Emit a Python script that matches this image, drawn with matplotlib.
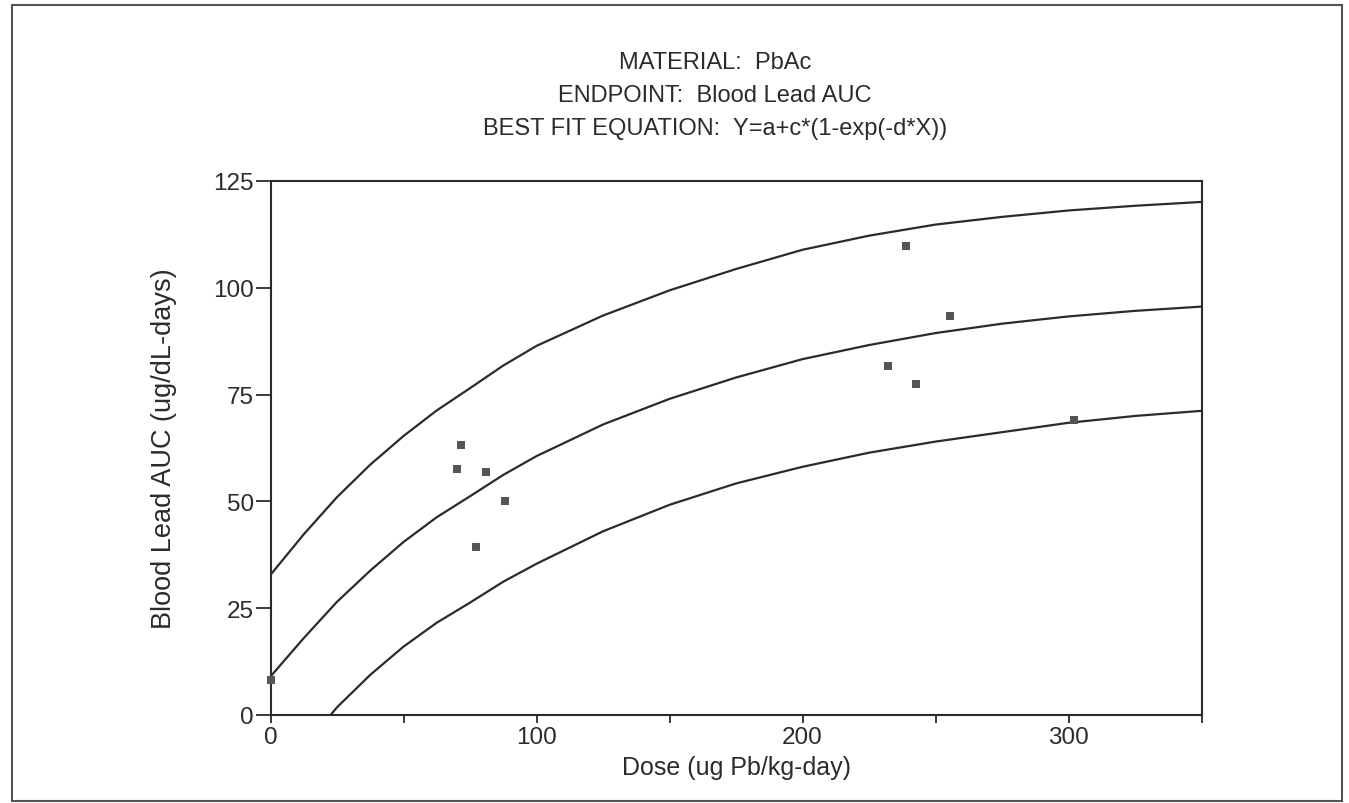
import matplotlib
matplotlib.use("Agg")
import matplotlib.pyplot as plt
from matplotlib.patches import Rectangle

# fitted curve and bands
dose_fit = [0, 12.5, 25, 37.5, 50, 62.5, 75, 87.5, 100, 125, 150, 175,
            200, 225, 250, 275, 300, 325, 350]
auc_mid = [9.0, 18.0, 26.5, 33.8, 40.5, 46.3, 51.2, 56.2, 60.6, 68.0, 74.0,
           79.0, 83.3, 86.6, 89.4, 91.6, 93.3, 94.6, 95.6]
auc_upper = [32.8, 42.3, 51.0, 58.6, 65.3, 71.3, 76.5, 81.8, 86.4, 93.5,
             99.4, 104.4, 108.9, 112.2, 114.8, 116.6, 118.1, 119.2, 120.1]
dose_low = [22.6, 25, 37.5, 50, 62.5, 75, 87.5, 100, 125, 150, 175,
            200, 225, 250, 275, 300, 325, 350]
auc_lower = [0.0, 1.8, 9.4, 16.0, 21.6, 26.3, 31.2, 35.4, 43.0, 49.2, 54.2,
             58.1, 61.4, 64.0, 66.2, 68.4, 70.0, 71.2]

# observed data points
dose_obs = [0, 70, 71.7, 77.1, 81.1, 88.0, 232.1, 239.0, 242.6, 255.3, 302.2]
auc_obs = [8.3, 57.7, 63.1, 39.4, 56.9, 50.2, 81.6, 109.8, 77.5, 93.3, 69.0]

title_lines = ["MATERIAL:  PbAc",
               "ENDPOINT:  Blood Lead AUC",
               "BEST FIT EQUATION:  Y=a+c*(1-exp(-d*X))"]

plt.rcParams['font.family'] = ['Liberation Sans', 'DejaVu Sans']
ink = '#2b2b2b'

fig = plt.figure(figsize=(13.49, 8.04), dpi=100)
fig.patch.set_facecolor('white')
# outer frame around the whole chart
fig.add_artist(Rectangle((12 / 1349, 1 - 802 / 804), 1330 / 1349, 796 / 804,
                         transform=fig.transFigure, fill=False,
                         edgecolor='#555555', linewidth=1.5))

ax = fig.add_axes([270.5 / 1349, 1 - 716 / 804, 931 / 1349, 534 / 804])

ax.plot(dose_fit, auc_upper, color=ink, linewidth=1.6)
ax.plot(dose_fit, auc_mid, color=ink, linewidth=1.6)
ax.plot(dose_low, auc_lower, color=ink, linewidth=1.6)
ax.plot(dose_obs, auc_obs, linestyle='none', marker='s', markersize=5.5,
        color='#555555', markeredgewidth=0, clip_on=False, zorder=5)

ax.set_xlim(0, 350)
ax.set_ylim(0, 125)
ax.set_xticks([0, 50, 100, 150, 200, 250, 300, 350])
ax.set_xticklabels(['0', '', '100', '', '200', '', '300', ''])
ax.set_yticks([0, 25, 50, 75, 100, 125])
ax.tick_params(axis='x', direction='out', length=6, width=1.3, color=ink,
               labelsize=17.5, labelcolor=ink, pad=2)
ax.tick_params(axis='y', direction='out', length=11, width=1.3, color=ink,
               labelsize=17.5, labelcolor=ink, pad=1)
for s in ax.spines.values():
    s.set_color(ink)
    s.set_linewidth(1.5)

ax.set_xlabel('Dose (ug Pb/kg-day)', fontsize=18, color=ink, labelpad=5)
ax.set_ylabel('Blood Lead AUC (ug/dL-days)', fontsize=19.5, color=ink, labelpad=26)

for i, line in enumerate(title_lines):
    fig.text(715 / 1349, 1 - (63 + 33 * i) / 804, line, ha='center',
             va='center', fontsize=17, color=ink)

fig.savefig('out.png', dpi=100, facecolor='white')
